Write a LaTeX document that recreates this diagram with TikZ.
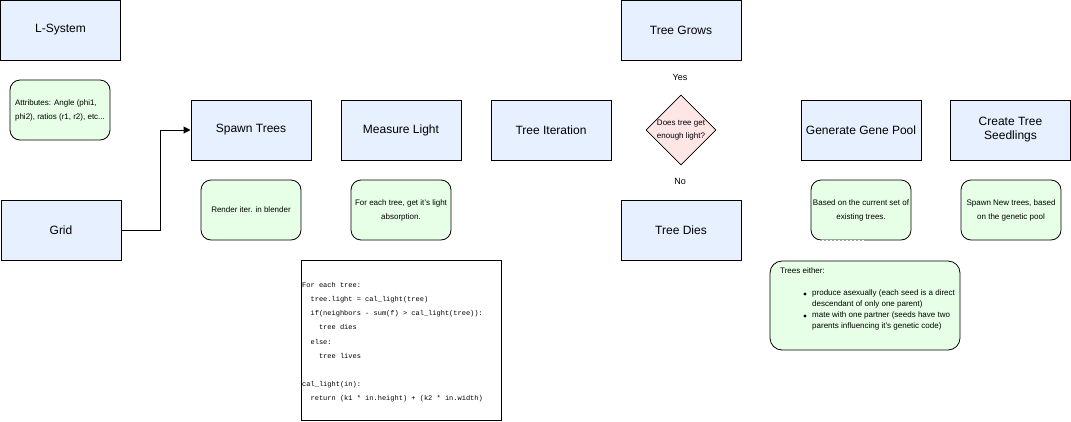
\documentclass[tikz,border=0pt]{standalone}
\usepackage{fontspec}
\setmainfont{Liberation Sans}
\newfontfamily\codefont{Liberation Mono}
\usetikzlibrary{shapes.geometric,arrows.meta}
\definecolor{bluefill}{HTML}{E6F0FF}
\definecolor{greenfill}{HTML}{E6FFE6}
\definecolor{pinkfill}{HTML}{FFE6E6}
\tikzset{
  mainbox/.style={draw=black, fill=bluefill, line width=1pt, minimum width=120pt, minimum height=60pt, inner sep=0pt, align=center, font=\fontsize{12}{14}\selectfont},
  notebox/.style={draw=black, fill=greenfill, line width=0.8pt, rounded corners=10pt, minimum width=100pt, minimum height=60pt, inner sep=0pt, align=center, font=\fontsize{8}{14}\selectfont},
  plainlabel/.style={inner sep=0pt, font=\fontsize{9}{11}\selectfont},
  conn/.style={draw=black, line width=1pt, -{Triangle[length=7pt,width=7pt]}}
}
\begin{document}
\begin{tikzpicture}[x=1pt,y=-1pt]
\useasboundingbox (0,0) rectangle (1071,421);
% main boxes
\node[mainbox] (lsys) at (60.5,30) {L-System};
\node[mainbox] (grid) at (61,230) {Grid};
\node[mainbox] (spawn) at (251,130) {Spawn Trees};
\node[mainbox] (measure) at (401,130) {Measure Light};
\node[mainbox] (iter) at (551,130) {Tree Iteration};
\node[mainbox] (grows) at (681,30) {Tree Grows};
\node[mainbox] (dies) at (681,230) {Tree Dies};
\node[mainbox] (gene) at (861,130) {Generate Gene Pool};
\node[mainbox] (seed) at (1010.5,130) {Create Tree\\Seedlings};
% decision
\node[diamond, draw=black, fill=pinkfill, line width=0.8pt, minimum width=70pt, minimum height=70pt, inner sep=0pt, align=center, font=\fontsize{8}{13}\selectfont] (dec) at (681,130) {Does tree get\\enough light?};
\node[plainlabel] (yes) at (680,77) {Yes};
\node[plainlabel] (no) at (680,181) {No};
% notes
\node[notebox, align=left] (attr) at (60,110) {Attributes: Angle (phi1,\\phi2), ratios (r1, r2), etc...};
\node[notebox] (render) at (251,210) {Render iter. in blender};
\node[notebox] (foreach) at (401,210) {For each tree, get it's light\\absorption.};
\node[notebox] (based) at (861,210) {Based on the current set of\\existing trees.};
\node[notebox] (spawnnew) at (1011,210) {Spawn New trees, based\\on the genetic pool};
\draw[white, line width=1pt, dash pattern=on 2pt off 2pt] (818,240) -- (866,240);
% code box
\node[draw=black, fill=white, line width=1pt, minimum width=200pt, minimum height=160pt, inner sep=0pt] (code) at (401,340.5) {};
\node[anchor=north west, inner sep=0pt, align=left, font=\codefont\fontsize{7}{14.2}\selectfont] (codetext) at (302,282) {For each tree:\\
\ \ tree.light = cal\_light(tree)\\
\ \ if(neighbors - sum(f) > cal\_light(tree)):\\
\ \ \ \ tree dies\\
\ \ else:\\
\ \ \ \ tree lives\\
\mbox{}\\
cal\_light(in):\\
\ \ return (k1 * in.height) + (k2 * in.width)};
% trees either
\node[draw=black, fill=greenfill, line width=0.8pt, rounded corners=12pt, minimum width=190pt, minimum height=89pt, inner sep=0pt] (either) at (865,305.5) {};
\node[anchor=west, inner sep=0pt, font=\fontsize{8}{9}\selectfont] (eithertitle) at (780,271) {Trees either:};
\node[anchor=north west, inner sep=0pt, align=left, font=\fontsize{8}{11}\selectfont] (b1) at (812,289) {produce asexually (each seed is a direct\\descendant of only one parent)};
\node[anchor=north west, inner sep=0pt, align=left, font=\fontsize{8}{11}\selectfont] (b2) at (812,311) {mate with one partner (seeds have two\\parents influencing it's genetic code)};
\fill (805,294) circle (1.7pt);
\fill (805,316) circle (1.7pt);
% connector
\draw[conn] (grid.east) -- (160,230) -- (160,130) -- (spawn.west);
\end{tikzpicture}
\end{document}
